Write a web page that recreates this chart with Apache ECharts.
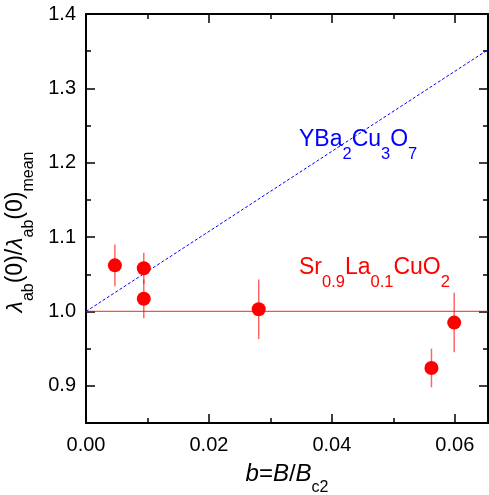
<!DOCTYPE html>
<html>
<head>
<meta charset="utf-8">
<script src="https://cdn.jsdelivr.net/npm/echarts@6/dist/echarts.min.js"></script>
<style>
  html, body { margin: 0; padding: 0; background: #fff; }
  #chart { width: 489px; height: 495px; }
</style>
</head>
<body>
<div id="chart"></div>
<script>
// measured points: b = B/Bc2, normalized penetration depth and its error
const bValues = [0.0047, 0.0094, 0.0094, 0.0281, 0.0562, 0.0599];
const ratioValues = [1.062, 1.058, 1.017, 1.003, 0.924, 0.985];
const ratioErrors = [0.028, 0.021, 0.026, 0.040, 0.026, 0.040];

// YBa2Cu3O7 reference line (dashed blue)
const ybcoB = [0, 0.0654];
const ybcoRatio = [1.0, 1.352];

// Sr0.9La0.1CuO2 mean line (red)
const srlaB = [0, 0.0654];
const srlaRatio = [1.0, 1.0];

const xMin = 0, xMax = 0.0654, xInterval = 0.02;
const yMin = 0.85, yMax = 1.4;

const font = "'Liberation Sans', Arial, sans-serif";
const red = '#ff0000';

const chart = echarts.init(document.getElementById('chart'), null, { renderer: 'canvas' });

// subscript: pushed down with top padding inside a tall line
function sub(size, color, drop) {
    return { fontFamily: font, fontSize: size, color: color, fill: color, lineHeight: 4, verticalAlign: 'top', padding: [drop, 0, 0, 0] };
}

function axisCommon(showLabel) {
    return {
        axisLine: { show: true, onZero: false, lineStyle: { color: '#000', width: 2 } },
        axisTick: { show: true, inside: true, length: 9, lineStyle: { color: '#000', width: 1.5 } },
        minorTick: { show: true, splitNumber: 2, length: 5, lineStyle: { color: '#000', width: 1.5 } },
        splitLine: { show: false },
        axisLabel: { show: showLabel, fontFamily: font, fontSize: 20, color: '#000' }
    };
}

const xBottom = Object.assign(axisCommon(true), {
    type: 'value', position: 'bottom', min: xMin, max: xMax, interval: xInterval,
    name: '{i|b}{n|=}{i|B}{n|/}{i|B}{s|c2}',
    nameLocation: 'middle', nameGap: 36,
    nameTextStyle: {
        rich: {
            i: { fontFamily: font, fontStyle: 'italic', fontSize: 24, color: '#000', lineHeight: 28 },
            n: { fontFamily: font, fontSize: 24, color: '#000', lineHeight: 28 },
            s: sub(16, '#000', 20)
        }
    }
});
xBottom.axisLabel.formatter = v => v.toFixed(2);
xBottom.axisLabel.showMaxLabel = false;
xBottom.axisLabel.margin = 12;

const xTop = Object.assign(axisCommon(false), {
    type: 'value', position: 'top', min: xMin, max: xMax, interval: xInterval
});

const yLeft = Object.assign(axisCommon(true), {
    type: 'value', position: 'left', min: yMin, max: yMax, splitNumber: 5,
    name: '{l|λ}{s|ab}{n|(0)/}{l|λ}{s|ab}{n|(0)}{s|mean}',
    nameLocation: 'middle', nameGap: 56, nameRotate: 90,
    nameTextStyle: {
        padding: [0, 27, 0, 0],
        rich: {
            l: { fontFamily: font, fontStyle: 'italic', fontSize: 23, color: '#000', lineHeight: 28 },
            n: { fontFamily: font, fontSize: 23, color: '#000', lineHeight: 28 },
            s: sub(16, '#000', 19)
        }
    }
});
yLeft.axisLabel.formatter = v => v.toFixed(1);
yLeft.axisLabel.showMinLabel = false;
yLeft.axisLabel.margin = 10;

const yRight = Object.assign(axisCommon(false), {
    type: 'value', position: 'right', min: yMin, max: yMax, splitNumber: 5
});

const points = bValues.map((b, i) => [b, ratioValues[i], ratioErrors[i]]);

const option = {
    animation: false,
    backgroundColor: '#fff',
    grid: { left: 86, top: 14, right: 1, bottom: 72, containLabel: false, outerBoundsMode: 'none' },
    xAxis: [xBottom, xTop],
    yAxis: [yLeft, yRight],
    series: [
        {
            type: 'line',
            data: ybcoB.map((b, i) => [b, ybcoRatio[i]]),
            symbol: 'none',
            lineStyle: { color: '#0000ff', width: 1, type: [3, 2] },
            z: 2
        },
        {
            type: 'line',
            data: srlaB.map((b, i) => [b, srlaRatio[i]]),
            symbol: 'none',
            lineStyle: { color: 'rgba(255,0,0,0.7)', width: 1.2 },
            z: 2
        },
        {
            type: 'custom',
            data: points,
            renderItem: function (params, api) {
                const x = api.value(0), y = api.value(1), e = api.value(2);
                const p1 = api.coord([x, y - e]);
                const p2 = api.coord([x, y + e]);
                return {
                    type: 'line',
                    shape: { x1: p1[0], y1: p1[1], x2: p2[0], y2: p2[1] },
                    style: { stroke: 'rgba(255,0,0,0.6)', lineWidth: 1.5 }
                };
            },
            z: 3
        },
        {
            type: 'scatter',
            data: points.map(p => [p[0], p[1]]),
            symbol: 'circle',
            symbolSize: 14,
            itemStyle: { color: red, opacity: 1 },
            z: 4
        }
    ],
    graphic: [
        {
            type: 'text', left: 299, top: 126,
            style: {
                text: '{m|YBa}{s|2}{m|Cu}{s|3}{m|O}{s|7}',
                rich: {
                    m: { fontFamily: font, fontSize: 23, fill: '#0000ff', lineHeight: 28 },
                    s: sub(16.5, '#0000ff', 20)
                }
            }
        },
        {
            type: 'text', left: 299, top: 254,
            style: {
                text: '{m|Sr}{s|0.9}{m|La}{s|0.1}{m|CuO}{s|2}',
                rich: {
                    m: { fontFamily: font, fontSize: 23, fill: red, lineHeight: 28 },
                    s: sub(16.5, red, 20)
                }
            }
        }
    ]
};

chart.setOption(option);
</script>
</body>
</html>
